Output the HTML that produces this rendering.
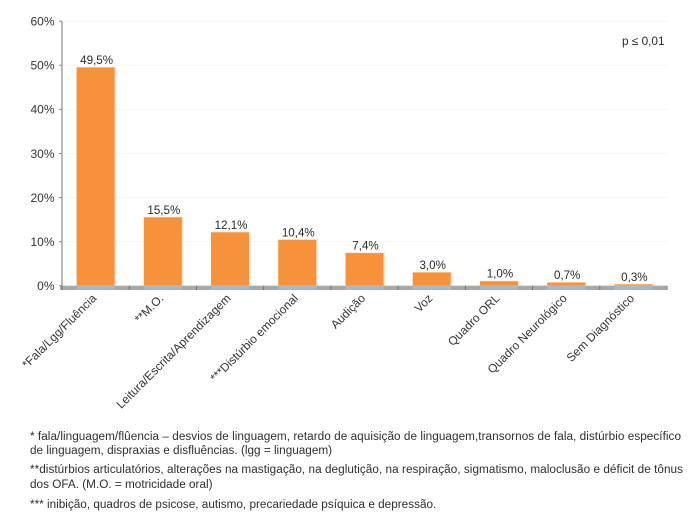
<!DOCTYPE html>
<html lang="pt">
<head>
<meta charset="utf-8">
<title>Gráfico de diagnósticos</title>
<style>
html,body{margin:0;padding:0;background:#fff;}
svg{display:block;font-family:"Liberation Sans",Arial,sans-serif;}
.note{font-size:11.75px;fill:#2f2f2f;}
</style>
</head>
<body>
<svg id="chart" width="700" height="522" viewBox="0 0 700 522" xmlns="http://www.w3.org/2000/svg">
  <text x="622" y="45" font-size="11.8" fill="#2a2a2a">p ≤ 0,01</text>
  <text class="note" x="30" y="440" textLength="651" lengthAdjust="spacing">* fala/linguagem/flûencia – desvios de linguagem, retardo de aquisição de linguagem,transornos de fala, distúrbio específico</text>
  <text class="note" x="30" y="454">de linguagem, dispraxias e disfluências. (lgg = linguagem)</text>
  <text class="note" x="30" y="473" textLength="653" lengthAdjust="spacing">**distúrbios articulatórios, alterações na mastigação, na deglutição, na respiração, sigmatismo, maloclusão e déficit de tônus</text>
  <text class="note" x="30" y="488">dos OFA. (M.O. = motricidade oral)</text>
  <text class="note" x="30" y="508">*** inibição, quadros de psicose, autismo, precariedade psíquica e depressão.</text>
</svg>
<script>
const categories = ["*Fala/Lgg/Fluência", "**M.O.", "Leitura/Escrita/Aprendizagem", "***Distúrbio emocional", "Audição", "Voz", "Quadro ORL", "Quadro Neurológico", "Sem Diagnóstico"];
const seriesValues = [49.5, 15.5, 12.1, 10.4, 7.4, 3.0, 1.0, 0.7, 0.3];
const valueLabels = ["49,5%", "15,5%", "12,1%", "10,4%", "7,4%", "3,0%", "1,0%", "0,7%", "0,3%"];
const yTickValues = [0, 10, 20, 30, 40, 50, 60];
const yTickLabels = ["0%", "10%", "20%", "30%", "40%", "50%", "60%"];

const svg = document.getElementById('chart');
const NS = 'http://www.w3.org/2000/svg';
const left = 62, right = 667, baseY = 285.7, topY = 21.2, yMax = 60;
const yScale = v => baseY - (v / yMax) * (baseY - topY);
const step = (right - left) / categories.length;
const xCenter = i => left + step * (i + 0.5);
const barW = 38;

function make(tag, attrs, text) {
  const el = document.createElementNS(NS, tag);
  for (const k in attrs) el.setAttribute(k, attrs[k]);
  if (text !== undefined) el.textContent = text;
  svg.appendChild(el);
  return el;
}

yTickValues.forEach((v, i) => {
  const y = yScale(v);
  if (v > 0) {
    const grid = make('line', {x1: left, x2: right, y1: y, y2: y, stroke: '#f6f6f2', 'stroke-width': 1});
    
    
  }
  const tick = make('line', {x1: 59, x2: left, y1: y, y2: y, stroke: '#8a8a8a', 'stroke-width': 1});
  
  
  const label = make('text', {x: 54.5, y: y + 4.3, 'text-anchor': 'end', 'font-size': 12, fill: '#333'}, yTickLabels[i]);
  
  
});

const yAxis = make('line', {x1: left, x2: left, y1: topY, y2: baseY, stroke: '#8a8a8a', 'stroke-width': 1.2});



const band = make('rect', {x: 60, y: baseY, width: right - 60, height: 4.3, fill: '#a8a8a8'});



categories.forEach((c, i) => {
  const cx = xCenter(i);
  const y = yScale(seriesValues[i]);
  const shadowBar = make('rect', {x: cx - barW / 2, y: y - 0.6, width: barW + 1.6, height: baseY - y + 0.6, fill: '#fbe3c8'});
  
  
  const bar = make('rect', {x: cx - barW / 2, y: y, width: barW, height: baseY - y, fill: '#f5923b'});
  
  
  const reflect = make('rect', {x: cx - barW / 2, y: baseY + 0.3, width: barW, height: 3.7, fill: '#a9bac6'});
  
  
  const val = make('text', {x: cx + 1, y: y - 3.6, 'text-anchor': 'middle', 'font-size': 11.6, fill: '#2a2a2a'}, valueLabels[i]);
  
  
  const lx = cx + 1.5, ly = 299;
  const cat = make('text', {x: lx, y: ly, 'text-anchor': 'end', 'font-size': 11.9, fill: '#333', transform: 'rotate(-45 ' + lx + ' ' + ly + ')'}, c);
  
  
});

for (let i = 0; i <= categories.length; i++) {
  const x = left + step * i;
  const tick = make('line', {x1: x, x2: x, y1: baseY, y2: baseY + 4.3, stroke: '#6e6e6e', 'stroke-width': 0.9});
  
  
}
</script>
</body>
</html>
